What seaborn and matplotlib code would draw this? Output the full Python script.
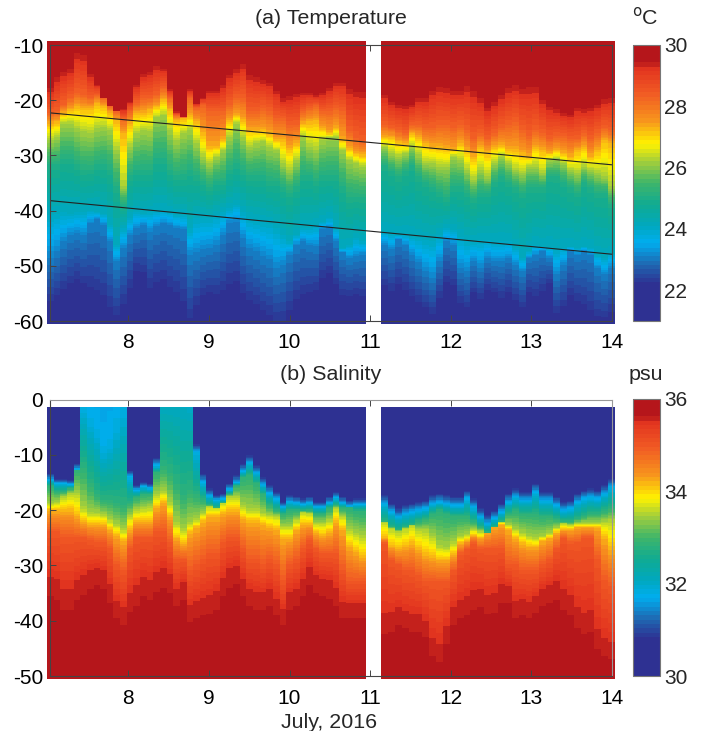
import numpy as np
import pandas as pd
import seaborn as sns
import matplotlib.pyplot as plt
from matplotlib.colors import LinearSegmentedColormap

# Depths (m), one value per 2 hour column.
# First 48 columns are July 7-11, last 34 are July 11.15-14.
n_left = 48

temp_levels = [29.5, 28.3, 27.3, 26.2, 25.0, 24.1, 23.1, 22.1]
t295 = [-17.5,-15.5,-14.5,-14,-11,-11.5,-15,-17,-19.5,-21,-22,-21.5,-20,-17,-15,-14.5,-13.5,-14,-18,-22,-23,-18,-20.5,-19.5,
        -18,-18,-17,-15,-14,-13,-15,-15.5,-16,-16.5,-18,-19.5,-19,-18.5,-18.5,-18.5,-19,-18.5,-17.5,-16.5,-16.5,-17.5,-18,-18,
        -18.7,-19.9,-20.5,-20.8,-20.5,-19.3,-19.3,-17.8,-17.2,-17.5,-17.8,-17.8,-16.9,-17.8,-19.3,-21.1,-19.9,
        -18.7,-17.5,-16.9,-17.5,-17.2,-17.2,-19.6,-20.8,-21.4,-22,-22.3,-21.1,-21.4,-21.1,-20.5,-19.6,-19.3]
t283 = [-22.3,-22,-20.8,-19.6,-18.7,-19,-19.6,-19,-19,-20.2,-21.4,-23.2,-22,-20.5,-19.6,-19.6,-19,-17.8,-19.6,-22.6,-22,-19.6,-21.4,-20.8,
        -22,-22,-22,-20.8,-19.6,-19.6,-22,-22,-21.4,-22,-23.2,-23.2,-24.4,-24.4,-22,-21.4,-20.8,-22,-22,-21.4,-22,-25.6,-26.8,-27.4,
        -24.5,-25,-25.5,-26,-24.5,-24.5,-25,-25,-24.5,-24.5,-25,-24.5,-25.5,-27,-26,-27,-26,
        -25,-24.5,-24,-25.5,-26.5,-25.5,-26,-27,-26.5,-26.5,-27,-27,-26,-27,-26,-25,-25.5]
t273 = [-24.2,-23.9,-22.3,-21.7,-21.1,-21.4,-21.4,-20.5,-21.1,-22.3,-23.6,-26,-24.2,-22.3,-22.3,-21.7,-21.1,-19.9,-21.7,-23.6,-23.3,-22.7,-23.9,-26,
        -28.4,-28.4,-27.2,-23.6,-22.7,-23.6,-25.4,-25.4,-25.4,-26,-27.2,-27.2,-28.7,-27.8,-24.2,-23.9,-23.6,-25.1,-26,-25.1,-27.2,-28.7,-29.6,-29.9,
        -26.6,-26.6,-27.5,-27.8,-26,-26.6,-27.8,-28.4,-28.4,-28.7,-29,-27.8,-29,-30.2,-28.4,-29.3,-28.4,
        -28.1,-29,-29,-29.6,-30.2,-28.4,-29,-29.6,-29,-29.6,-30.2,-29,-28.4,-30.2,-29,-27.2,-27.8]
t262 = [-27.2,-26.6,-24.2,-24.2,-25.1,-25.7,-26,-25.1,-24.8,-25.4,-29,-35.6,-28.4,-26,-25.4,-25.7,-23,-22.7,-25.4,-27.2,-26,-25.4,-27.8,-30.2,
        -31.4,-30.2,-29,-26.6,-24.2,-26.6,-28.4,-27.8,-27.5,-28.4,-29,-31.4,-32.6,-30.8,-26.6,-28.4,-29,-27.2,-26.6,-26.6,-29,-30.8,-31.4,-32,
        -28.4,-29.6,-30.2,-29.6,-28.4,-29.9,-31.4,-31.4,-32,-32,-30.2,-30.8,-32.6,-34.4,-32.6,-33.8,-31.4,
        -30.2,-31.4,-32.6,-33.2,-32,-32,-33.2,-30.8,-30.5,-31.4,-32.6,-33.2,-32,-32.6,-33.2,-33.8,-35.6]
t250 = [-32,-32,-31,-31,-32,-33,-33,-32,-32,-33,-36,-39,-34,-33,-33,-33,-31,-31,-33,-34,-34,-33,-34,-35,
        -36,-35,-35,-33,-32,-33,-34,-34,-34,-35,-35,-36,-37,-36,-34,-34,-35,-34,-34,-34,-36,-38,-38,-38,
        -32,-33,-34,-33,-32,-34,-35,-36,-37,-38,-36,-36,-37,-38,-37,-37,-35,
        -34,-35,-36,-37,-36,-36,-36,-34,-34,-35,-36,-37,-35,-36,-37,-37,-39]
t241 = [-40.8,-40.5,-40.2,-40.5,-40.2,-40.2,-39.9,-40.2,-40.5,-42.6,-46.2,-43.2,-41.4,-40.2,-40.5,-40.2,-39.9,-39.9,-40.2,-40.8,-40.8,-43.2,-41.4,-41.4,
        -41.4,-40.8,-40.2,-39.6,-39,-40.2,-41.4,-41.7,-42,-42.3,-43.2,-44.4,-45.6,-44.4,-43.2,-43.2,-42.6,-42,-41.4,-43.2,-46.8,-46.2,-45,-45.6,
        -43.8,-44.1,-44.4,-44.4,-44.7,-45,-45.3,-45.6,-44.4,-43.2,-43.5,-44.7,-45.6,-45.6,-45.3,-45.3,-45.6,
        -45.6,-45.6,-46.8,-48.6,-47.4,-46.2,-46.5,-46.5,-47.1,-46.8,-46.5,-46.8,-46.5,-46.8,-48,-48.6,-47.7]
t231 = [-48.6,-47.4,-45.6,-44.4,-44.1,-44.4,-42.3,-41.7,-42.6,-45.6,-49.2,-46.8,-44.4,-43.2,-42.6,-43.8,-42.9,-42.3,-42.6,-43.2,-43.5,-48,-47.7,-47.1,
        -46.8,-46.2,-44.4,-42.3,-42,-45,-46.8,-47.4,-48.3,-48.9,-50.4,-49.8,-48,-46.2,-45.6,-46.2,-46.5,-43.5,-43.2,-45.6,-47.7,-48.6,-48.3,-48,
        -46.2,-47.1,-45.3,-46.2,-48,-49.5,-51,-52.2,-49.2,-45.6,-46.2,-50.4,-51,-49.2,-50.4,-48.6,-49.2,
        -49.2,-48.6,-49.8,-51,-48.6,-48,-47.4,-48.6,-51.6,-49.8,-47.4,-48,-47.4,-48,-50.4,-51.6,-50.4]
t221 = [-58,-57,-56,-55,-54,-55,-56,-57,-58,-60,-61,-59,-56,-52.5,-53,-56,-55,-54.5,-56,-57,-59,-62,-59,-57,
        -56.5,-57,-56.5,-55.5,-55,-57,-58,-59,-60,-61,-62,-62,-60,-58,-57,-56.5,-56,-54,-53,-55,-57,-57,-56.5,-57,
        -55,-56,-55,-56,-57,-58,-59,-60,-57,-54.5,-55,-58,-59,-56,-57,-55.5,-56,
        -57,-56,-57.5,-59,-56,-57,-56,-54,-60,-59,-57,-58,-59,-60,-61,-61,-60]

salt_levels = [30.8, 31.8, 32.8, 33.5, 34.2, 35.0, 35.6]
# salinity at the top of the record, fresh pools on July 7-8
salt_surface = [30,30,30,30,30,31.75,31.7,31.65,31.6,31.65,31.75,31.85,30,30,30,30,30,32,32,32,32,31.95,30,30,
                30,30,30,30,30,30,30,30,30,30,30,30,30,30,30,30,30,30,30,30,30,30,30,30,
                30,30,30,30,30,30,30,30,30,30,30,30,30,30,30,30,30,
                30,30,30,30,30,30,30,30,30,30,30,30,30,30,30,30,30]
# 0 means the level is not reached below the surface in that column
s308 = [-13.3,-14.2,-14.2,-14.4,-11.5,0,0,0,0,0,0,0,-12.7,-15.4,-14.8,-15.1,-10.3,0,0,0,0,0,-7.9,-13.3,
        -16,-17.2,-16.9,-15.1,-13.6,-11.5,-10,-11.8,-13.9,-15.4,-16.6,-18.4,-17.2,-17.5,-17.8,-17.5,-18.4,-18.4,-17.5,-16.6,-17.5,-18.1,-17.8,-17.8,
        -17.2,-18.7,-19.6,-19,-18.7,-18.4,-18.1,-17.2,-16.9,-17.2,-17.5,-17.5,-16.3,-17.8,-19.6,-20.8,-19.9,
        -18.7,-16.9,-16,-16.6,-16.6,-15.1,-16.6,-16.6,-17.5,-18.4,-18.1,-16.9,-16.3,-16,-16.3,-15.4,-14.2]
s318 = [-14.5,-15.2,-15.2,-15.4,-12.5,-1.5,-4,-6,-9,-8,-5,-2,-14,-16.4,-15.8,-16.1,-12,0,0,0,0,0,-9.5,-15,
        -17.5,-18.2,-18,-16.3,-15,-13,-11.5,-13.3,-15.5,-17,-18,-19.5,-18.5,-18.7,-19,-18.7,-19.5,-19.5,-18.7,-17.8,-18.7,-19.3,-19,-19,
        -18.9,-20.4,-21.3,-20.7,-20.4,-20.1,-19.8,-18.9,-18.6,-18.9,-19.2,-19.2,-18,-19.5,-21.3,-22.5,-21.6,
        -20.4,-18.6,-17.7,-18.3,-18.3,-16.8,-18.3,-18.3,-19.2,-20.1,-19.8,-18.6,-18,-17.7,-18,-17.1,-15.9]
s328 = [-15.5,-16.5,-16.5,-16,-11,-12,-15,-17,-18,-18,-18.5,-19,-18.5,-17.5,-17,-17,-13,-12,-13,-15,-17,-16,-17,-18,
        -19,-19.5,-18.5,-17,-15.5,-14,-13.5,-15,-17,-19,-20,-20.5,-20,-20,-20,-20,-20.5,-20.5,-19.5,-19,-19.5,-19.5,-20,-20,
        -22,-23,-23.5,-23,-22.5,-22,-21.5,-20.5,-20,-20.5,-21,-21,-21,-22,-23,-24,-23,
        -22,-20.5,-20,-20.5,-20.5,-20.5,-21,-21,-21.5,-22,-22,-21.5,-21,-20.5,-20.5,-20,-19.5]
s335 = [-18.7,-18.4,-17.5,-16.9,-16.9,-19.6,-20.5,-20.5,-20.8,-21.7,-22.6,-23.5,-21,-19.9,-19.6,-19.3,-17.2,-16.6,-18.7,-22.3,-23.5,-22.3,-21.7,-20.5,
        -19.3,-19,-18.4,-17.5,-17.5,-19.3,-19.9,-19.9,-20.5,-20.8,-21,-22.9,-22.9,-21.7,-20.2,-20.5,-22.3,-22.3,-21.7,-19.6,-21,-23.5,-24.1,-24.7,
        -21.7,-23.2,-23.8,-23.2,-22.3,-23.5,-23.5,-24.7,-26.5,-26.8,-25.9,-24.7,-24.4,-23.5,-23.8,-22.9,-22,
        -21.7,-22.6,-23.5,-24.1,-24.7,-25,-24.7,-24.1,-23.2,-22.3,-22.6,-22.3,-22.3,-22.3,-22.3,-22,-21.7]
s342 = [-20,-20,-20,-20,-21,-22,-22.5,-22.5,-22.5,-23.5,-24.5,-25.5,-23.5,-22,-22,-22,-19.5,-18.5,-21,-25,-26,-24,-23,-22,
        -21,-21,-20.5,-20,-20,-21.5,-22,-22,-22.5,-23,-23.5,-25,-25,-23.5,-22.5,-22.5,-24,-24.5,-24,-22,-23.5,-26.5,-27.5,-28.5,
        -25,-26.5,-27,-26.5,-26,-27,-28,-28.5,-29,-29,-28,-26,-25.5,-24.5,-25,-24,-22.5,
        -22.5,-23.5,-25,-26,-26.5,-26.5,-25.5,-25,-24,-23.5,-23.5,-23,-23,-23,-23,-25,-27]
s350 = [-24,-24,-25,-25,-25,-25,-25.5,-26,-26,-27,-30,-31,-27,-25,-25,-25,-24,-24,-26,-29,-29,-31,-30,-29,
        -28,-28,-26,-25,-25,-27,-29,-29,-30,-29,-30,-33,-30,-29,-27,-25.5,-27,-28,-28,-28,-31,-33,-33,-33,
        -26,-29,-30,-31,-31,-32,-33,-33,-33,-33,-31,-28,-27,-26,-27,-27,-27,
        -27,-30,-30,-31,-31,-31,-30,-29,-27,-25,-26,-26,-25,-25,-29,-33,-34]
s356 = [-33,-33.6,-35.5,-35.5,-33.6,-32.7,-31.5,-30.9,-31.5,-34.2,-37.3,-38.5,-36,-34.8,-33,-33.6,-32.1,-31.2,-32.4,-34.8,-33.6,-37.9,-37.3,-36.7,
        -36.4,-35.5,-33,-31.2,-30.6,-33,-34.8,-35.5,-35.5,-34.8,-36.7,-38.5,-35.5,-34.8,-33,-30.9,-32.4,-33,-33.3,-34.8,-37.3,-37.3,-37.3,-37.3,
        -40.3,-39.7,-38.5,-39.1,-39.7,-39.7,-40.9,-44.5,-45.7,-42.1,-38.5,-37.3,-36.7,-35.5,-35.2,-36.4,-36.1,
        -34.2,-34.2,-37.3,-36.7,-37.3,-36.1,-34.8,-34.2,-33.6,-35.5,-36.7,-39.1,-40.3,-39.7,-43.3,-44.5,-45.1]

line_days = [7.03, 14]
line_upper = [-22.3, -31.7]
line_lower = [-38.2, -47.9]

day_ticks = [8, 9, 10, 11, 12, 13, 14]
temp_ticks = [-10, -20, -30, -40, -50, -60]
salt_ticks = [0, -10, -20, -30, -40, -50]
temp_cbar_ticks = [22, 24, 26, 28, 30]
salt_cbar_ticks = [30, 32, 34, 36]

W, H = 702, 731

sns.set_style('ticks')
plt.rcParams['font.family'] = ['Liberation Sans', 'DejaVu Sans']
plt.rcParams['axes.unicode_minus'] = False

colors = [(0.0, '#2e3192'), (0.13, '#2e3192'), (0.2, '#1f67b1'), (0.28, '#00aeef'), (0.34, '#00a8c0'),
          (0.42, '#10ab92'), (0.5, '#3fb56a'), (0.58, '#a5cf3a'), (0.645, '#fff200'), (0.73, '#f7941d'),
          (0.83, '#f15a24'), (0.92, '#e2351f'), (0.945, '#b5161b'), (1.0, '#b5161b')]
cmap = LinearSegmentedColormap.from_list('print_jet', colors, N=64)


def px_axes(x0, y0, x1, y1):
    return fig.add_axes([x0 / W, 1 - y1 / H, (x1 - x0) / W, (y1 - y0) / H])


def make_field(iso, levels, rows, top, bottom):
    # fill each column between the depths read for its levels
    levels = np.array(levels)
    cols = []
    for c in range(iso.shape[1]):
        d = -iso[:, c]
        keep = d > 0
        xp = np.concatenate([[0], np.maximum.accumulate(d[keep]), [75]])
        fp = np.concatenate([[top[c]], levels[keep], [bottom]])
        cols.append(np.interp(-rows, xp, fp))
    return np.array(cols).T


fig = plt.figure(figsize=(W / 100, H / 100), dpi=100)

temp_rows = np.arange(-9.3, -60.6, -0.2)
salt_rows = np.arange(-1.3, -50.6, -0.2)
temp_iso = np.array([t295, t283, t273, t262, t250, t241, t231, t221])
salt_iso = np.array([s308, s318, s328, s335, s342, s350, s356])
temp_field = make_field(temp_iso, temp_levels, temp_rows, [30] * temp_iso.shape[1], 21.2)
salt_field = make_field(salt_iso, salt_levels, salt_rows, salt_surface, 36)

panels = [
    (temp_field, temp_rows, 21, 30, 41, 324, temp_cbar_ticks, 45, 321),
    (salt_field, salt_rows, 30, 36, 407, 679, salt_cbar_ticks, 399, 676),
]
for field, rows, vmin, vmax, y0, y1, cticks, ytop, ybot in panels:
    df = pd.DataFrame(field, index=rows)
    ax_l = px_axes(47, y0, 366, y1)
    ax_r = px_axes(381, y0, 615, y1)
    cax = px_axes(633, ytop, 660, ybot)
    sns.heatmap(df.iloc[:, :n_left], ax=ax_l, cmap=cmap, vmin=vmin, vmax=vmax, cbar_ax=cax,
                cbar_kws={'ticks': cticks}, xticklabels=False, yticklabels=False)
    sns.heatmap(df.iloc[:, n_left:], ax=ax_r, cmap=cmap, vmin=vmin, vmax=vmax, cbar=False,
                xticklabels=False, yticklabels=False)
    ax_l.axis('off')
    ax_r.axis('off')
    cax.tick_params(direction='in', left=True, right=True, length=3, width=0.7, color='#444444',
                    labelsize=15, pad=3)
    cb = ax_l.collections[0].colorbar
    cb.outline.set_edgecolor('#777777')
    cb.outline.set_linewidth(0.8)

# frame, ticks and the two lines sit on top of the colour fields
ax_a = px_axes(50.3, 45, 611.7, 321)
ax_b = px_axes(50.3, 399.5, 611.7, 676)
for ax, yt, ylo, yhi in [(ax_a, temp_ticks, -60, -10), (ax_b, salt_ticks, -50, 0)]:
    ax.set_facecolor('none')
    ax.set_xlim(7.03, 14)
    ax.set_ylim(ylo, yhi)
    ax.set_xticks(day_ticks)
    ax.set_yticks(yt)
    ax.tick_params(direction='in', top=True, right=False, left=True, length=4, width=0.7,
                   color='#444444', labelsize=15, labelcolor='black')
    ax.tick_params(axis='x', pad=9)
    ax.tick_params(axis='y', pad=5)
    for s in ax.spines.values():
        s.set_visible(True)
        s.set_color('#444444')
        s.set_linewidth(0.8)
ax_b.spines['top'].set_color('#999999')
ax_b.spines['right'].set_color('#999999')

sns.lineplot(x=line_days, y=line_upper, ax=ax_a, color='#222222', linewidth=0.8)
sns.lineplot(x=line_days, y=line_lower, ax=ax_a, color='#222222', linewidth=0.8)
ax_a.set_xlim(7.03, 14)

fig.text(331 / W, 1 - 19 / H, '(a) Temperature', ha='center', va='center', fontsize=15.4)
fig.text(331 / W, 1 - 374 / H, '(b) Salinity', ha='center', va='center', fontsize=15.4)
fig.text(329.5 / W, 1 - 722 / H, 'July, 2016', ha='center', va='center', fontsize=15.4)
fig.text(645 / W, 1 - 17 / H, '$^{\\mathrm{o}}$C', ha='center', va='center', fontsize=15.4)
fig.text(646 / W, 1 - 375 / H, 'psu', ha='center', va='center', fontsize=15.4)

fig.savefig('out.png', dpi=100)
